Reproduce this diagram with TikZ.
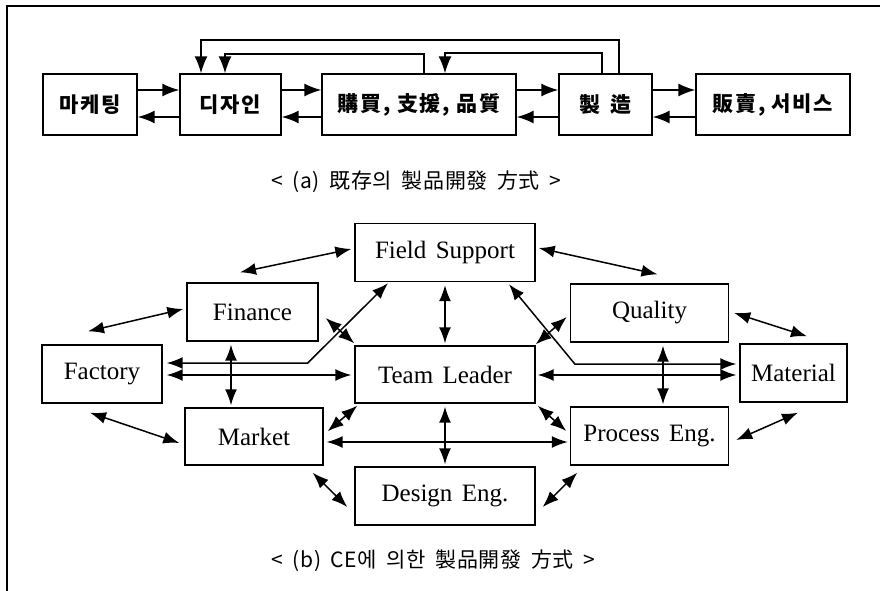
\documentclass[tikz,border=0pt]{standalone}
\usepackage{fontspec}
\setmainfont[WordSpace=1.5]{Liberation Serif}
\newfontfamily\krs[LetterSpace=8]{Noto Sans CJK KR}
\newfontfamily\krc[WordSpace=1.8,LetterSpace=3]{Noto Sans CJK KR}
\usetikzlibrary{arrows.meta,calc}
\newcommand\krtop{\krs\bfseries\fontsize{21}{24}\selectfont}
\newcommand\krcap{\krc\fontsize{21}{24}\selectfont}
\newcommand\latfont{\fontsize{25}{28}\selectfont}
\begin{document}
\begin{tikzpicture}[x=1pt,y=-1pt,
  box/.style={draw,line width=1.4pt,inner sep=0pt},
  tbox/.style={box,minimum height=61pt,font=\krtop},
  bbox/.style={box,minimum height=58pt,font=\latfont},
  tarr/.style={line width=1.5pt,-{Latex[length=17pt,width=13pt]}},
  dbl/.style={line width=1.5pt,{Latex[length=16pt,width=12pt]}-{Latex[length=16pt,width=12pt]}},
  frame/.style={line width=1.6pt}]
\useasboundingbox (0,0) rectangle (880,591);
\draw[frame] (7,591) -- (7,6) -- (880,6);

% ---------- (a) ----------
\node[tbox,minimum width=94pt]  (M) at (90,104.5)  {마케팅};
\node[tbox,minimum width=101pt] (D) at (230.5,104.5) {디자인};
\node[tbox,minimum width=194pt] (P) at (419,104.5) {購買, 支援, 品質};
\node[tbox,minimum width=93pt]  (S) at (605.5,104.5) {製\hspace{10pt}造};
\node[tbox,minimum width=154pt] (V) at (773,104.5) {販賣, 서비스};

\coordinate (yr) at (0,90);
\coordinate (yl) at (0,117);
\draw[tarr] (M.east |- yr) -- (D.west |- yr);
\draw[tarr] (D.west |- yl) -- (M.east |- yl);
\draw[tarr] (D.east |- yr) -- (P.west |- yr);
\draw[tarr] (P.west |- yl) -- (D.east |- yl);
\draw[tarr] (P.east |- yr) -- (S.west |- yr);
\draw[tarr] (S.west |- yl) -- (P.east |- yl);
\draw[tarr] (S.east |- yr) -- (V.west |- yr);
\draw[tarr] (V.west |- yl) -- (S.east |- yl);

\coordinate (o1) at (619,40);  \coordinate (o2) at (201,40);
\draw[tarr] (S.north -| o1) -- (o1) -- (o2) -- (D.north -| o2);
\coordinate (i1) at (424,54);  \coordinate (i2) at (225,54);
\draw[tarr] (P.north -| i1) -- (i1) -- (i2) -- (D.north -| i2);
\coordinate (j1) at (602,53);  \coordinate (j2) at (445,53);
\draw[tarr] (S.north -| j1) -- (j1) -- (j2) -- (P.north -| j2);

\node[anchor=west,font=\krcap] (capa) at (268,182) {< (a) 既存의 製品開發 方式 >};

% ---------- (b) ----------
\node[bbox,minimum width=180pt] (FS)  at (445,252.5) {Field Support};
\node[bbox,minimum width=131pt] (Fin) at (252.5,312) {Finance};
\node[bbox,minimum width=158pt] (Q)   at (649.5,313) {Quality};
\node[bbox,minimum width=120pt] (Fac) at (102,374) {Factory};
\node[bbox,minimum width=180pt,minimum height=57pt] (TL) at (445,374.5) {Team Leader};
\node[bbox,minimum width=107pt] (Mat) at (793.5,373) {Material};
\node[bbox,minimum width=138pt,minimum height=57pt] (Mkt) at (254,436.5) {Market};
\node[bbox,minimum width=158pt] (PE)  at (649.5,436) {Process Eng.};
\node[bbox,minimum width=180pt] (DE)  at (445,496) {Design Eng.};

\draw[dbl] ($(Fin.north)+(-12.5,-10)$) -- ($(FS.west)+(-3,-3.5)$);
\draw[dbl] ($(Fac.north)+(-14,-13)$) -- ($(Fin.west)+(-3,-3)$);
\draw[dbl] ($(Fac.east)+(4,-11)$) -- ($(Fac.east)+(145,-11)$) -- ($(FS.south)+(-57,1)$);
\draw[dbl] ($(Fac.east)+(4,1)$) -- ($(TL.west)+(-3,0.5)$);
\draw[dbl] ($(Fin.south)+(-21.5,3)$) -- ($(Mkt.north)+(-23,-2)$);
\draw[dbl] ($(Fin.east)+(7,6)$) -- ($(TL.north west)+(0,-2)$);
\draw[dbl] ($(TL.south west)+(3,2)$) -- ($(Mkt.north east)+(4,24)$);
\draw[dbl] ($(Fac.south)+(-12,9)$) -- ($(Mkt.west)+(-5,6.5)$);
\draw[dbl] ($(Mkt.east)+(3,5.5)$) -- ($(PE.west)+(-2,6)$);
\draw[dbl] ($(TL.south)+(0,3)$) -- ($(DE.north)+(0,-2)$);
\draw[dbl] ($(FS.south)+(0,3)$) -- ($(TL.north)+(0,-2)$);
\draw[dbl] ($(Mkt.south east)+(-11,7)$) -- ($(DE.west)+(-7,11)$);
\draw[dbl] ($(PE.south west)+(7.5,7)$) -- ($(DE.east)+(7,11)$);
\draw[dbl] ($(TL.south east)+(2,2)$) -- ($(PE.west)+(-3.5,-5)$);
\draw[dbl] ($(Mat.south)+(4.5,10)$) -- ($(PE.east)+(7,4)$);
\draw[dbl] ($(FS.east)+(3,-4.5)$) -- ($(Q.north)+(8,-9)$);
\draw[dbl] ($(Q.east)+(5,0)$) -- ($(Mat.north)+(13.5,-7)$);
\draw[dbl] ($(FS.south)+(64,2)$) -- ($(FS.south)+(130,82)$) -- ($(Mat.west)+(-3,-9)$);
\draw[dbl] ($(TL.east)+(2,0.5)$) -- ($(Mat.west)+(-3,2)$);
\draw[dbl] ($(Q.south)+(13.5,3)$) -- ($(PE.north)+(13.5,-2)$);
\draw[dbl] ($(TL.north east)+(0,-1)$) -- ($(Q.west)+(-3,4)$);

\node[anchor=west,font=\krcap] (capb) at (268,561) {< (b) CE에 의한 製品開發 方式 >};
\end{tikzpicture}
\end{document}
